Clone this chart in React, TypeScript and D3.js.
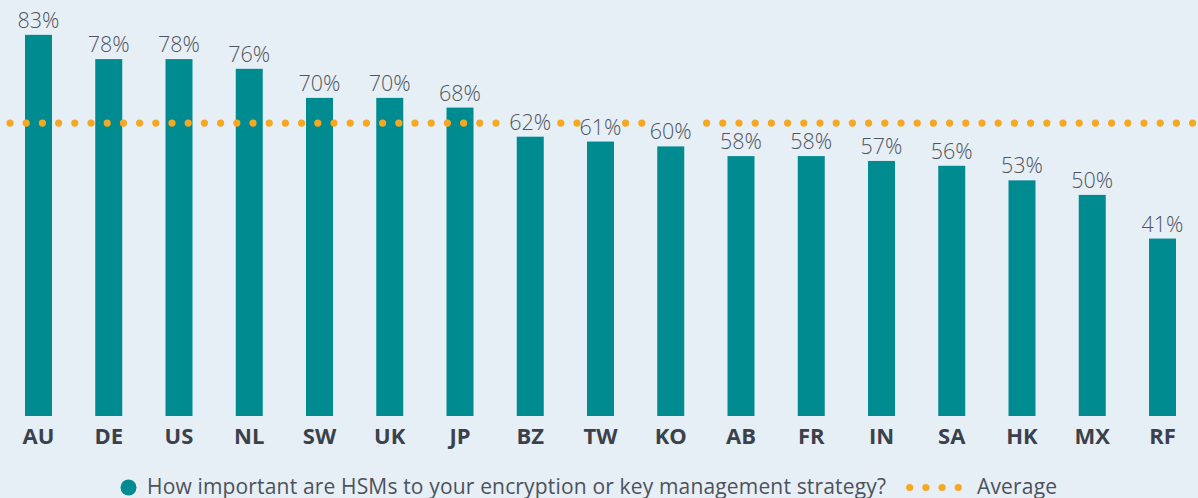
import React, { useEffect, useRef } from 'react';
import * as d3 from 'd3';

const countries = ['AU', 'DE', 'US', 'NL', 'SW', 'UK', 'JP', 'BZ', 'TW', 'KO', 'AB', 'FR', 'IN', 'SA', 'HK', 'MX', 'RF'];
const importance = [83, 78, 78, 76, 70, 70, 68, 62, 61, 60, 58, 58, 57, 56, 53, 50, 41];
const average = 64.8;
const seriesLabel = 'How important are HSMs to your encryption or key management strategy?';
const averageLabel = 'Average';

const BG = '#e6eef6';
const TEAL = '#008b90';
const ORANGE = '#f6a821';
const FONT = '"Open Sans", sans-serif';

export default function App() {
  const svgRef = useRef<SVGSVGElement>(null);

  useEffect(() => {
    if (!svgRef.current) return;
    const svg = d3.select(svgRef.current);
    svg.selectAll('*').remove();

    const width = 1198, height = 498;
    const baseline = 416;

    svg.append('rect').attr('width', width).attr('height', height).attr('fill', BG);

    const x = d3
      .scaleBand()
      .domain(countries)
      .range([3.375, 1197.625])
      .paddingInner(0.6157)
      .paddingOuter(0.3078);

    const y = d3.scaleLinear().domain([0, 100]).range([437.4, -47.6]);

    const data = countries.map((c, i) => ({ country: c, value: importance[i] }));

    // bars
    svg
      .append('g')
      .selectAll('rect')
      .data(data)
      .enter()
      .append('rect')
      .attr('x', (d) => x(d.country)!)
      .attr('y', (d) => y(d.value))
      .attr('width', x.bandwidth())
      .attr('height', (d) => baseline - y(d.value))
      .attr('fill', TEAL);

    // value labels (measured first so the dotted line can skip them)
    const labels = svg
      .append('g')
      .selectAll('text')
      .data(data)
      .enter()
      .append('text')
      .attr('x', (d) => x(d.country)! + x.bandwidth() / 2)
      .attr('y', (d) => y(d.value) - 7)
      .attr('text-anchor', 'middle')
      .style('font-family', FONT)
      .style('font-weight', 300)
      .style('font-size', '21.5px')
      .attr('fill', '#50555d')
      .text((d) => d.value + '%');

    const boxes: DOMRect[] = [];
    labels.each(function () {
      boxes.push((this as SVGTextElement).getBBox());
    });

    // average dotted line
    const avgY = y(average);
    const dots = d3.range(10, width + 4, 16.2).filter((cx) =>
      !boxes.some((b) => cx >= b.x - 1 && cx <= b.x + b.width + 1 && avgY >= b.y && avgY <= b.y + b.height)
    );
    svg
      .append('g')
      .selectAll('circle')
      .data(dots)
      .enter()
      .append('circle')
      .attr('cx', (d) => d)
      .attr('cy', avgY)
      .attr('r', 3.6)
      .attr('fill', ORANGE);

    labels.raise();

    // category axis
    svg
      .append('g')
      .selectAll('text')
      .data(countries)
      .enter()
      .append('text')
      .attr('x', (d) => x(d)! + x.bandwidth() / 2)
      .attr('y', 444)
      .attr('text-anchor', 'middle')
      .style('font-family', FONT)
      .style('font-weight', 700)
      .style('font-size', '22px')
      .attr('fill', '#3b414b')
      .text((d) => d);

    // legend
    const legend = svg.append('g');
    legend.append('circle').attr('cx', 128.5).attr('cy', 487.5).attr('r', 8).attr('fill', TEAL);
    legend
      .append('text')
      .attr('x', 147)
      .attr('y', 494)
      .attr('textLength', 739)
      .attr('lengthAdjust', 'spacing')
      .style('font-family', FONT)
      .style('font-size', '21px')
      .attr('fill', '#4c525b')
      .text(seriesLabel);
    legend
      .selectAll('circle.avg')
      .data(d3.range(4))
      .enter()
      .append('circle')
      .attr('class', 'avg')
      .attr('cx', (i) => 909.7 + i * 16.2)
      .attr('cy', 487.5)
      .attr('r', 3.6)
      .attr('fill', ORANGE);
    legend
      .append('text')
      .attr('x', 977)
      .attr('y', 494)
      .attr('textLength', 80)
      .attr('lengthAdjust', 'spacing')
      .style('font-family', FONT)
      .style('font-size', '21px')
      .attr('fill', '#4c525b')
      .text(averageLabel);
  }, []);

  return (
    <div style={{ position: 'fixed', left: 0, top: 0, width: 1198, height: 498, background: BG }}>
      <svg ref={svgRef} width={1198} height={498} style={{ display: 'block' }} />
    </div>
  );
}
